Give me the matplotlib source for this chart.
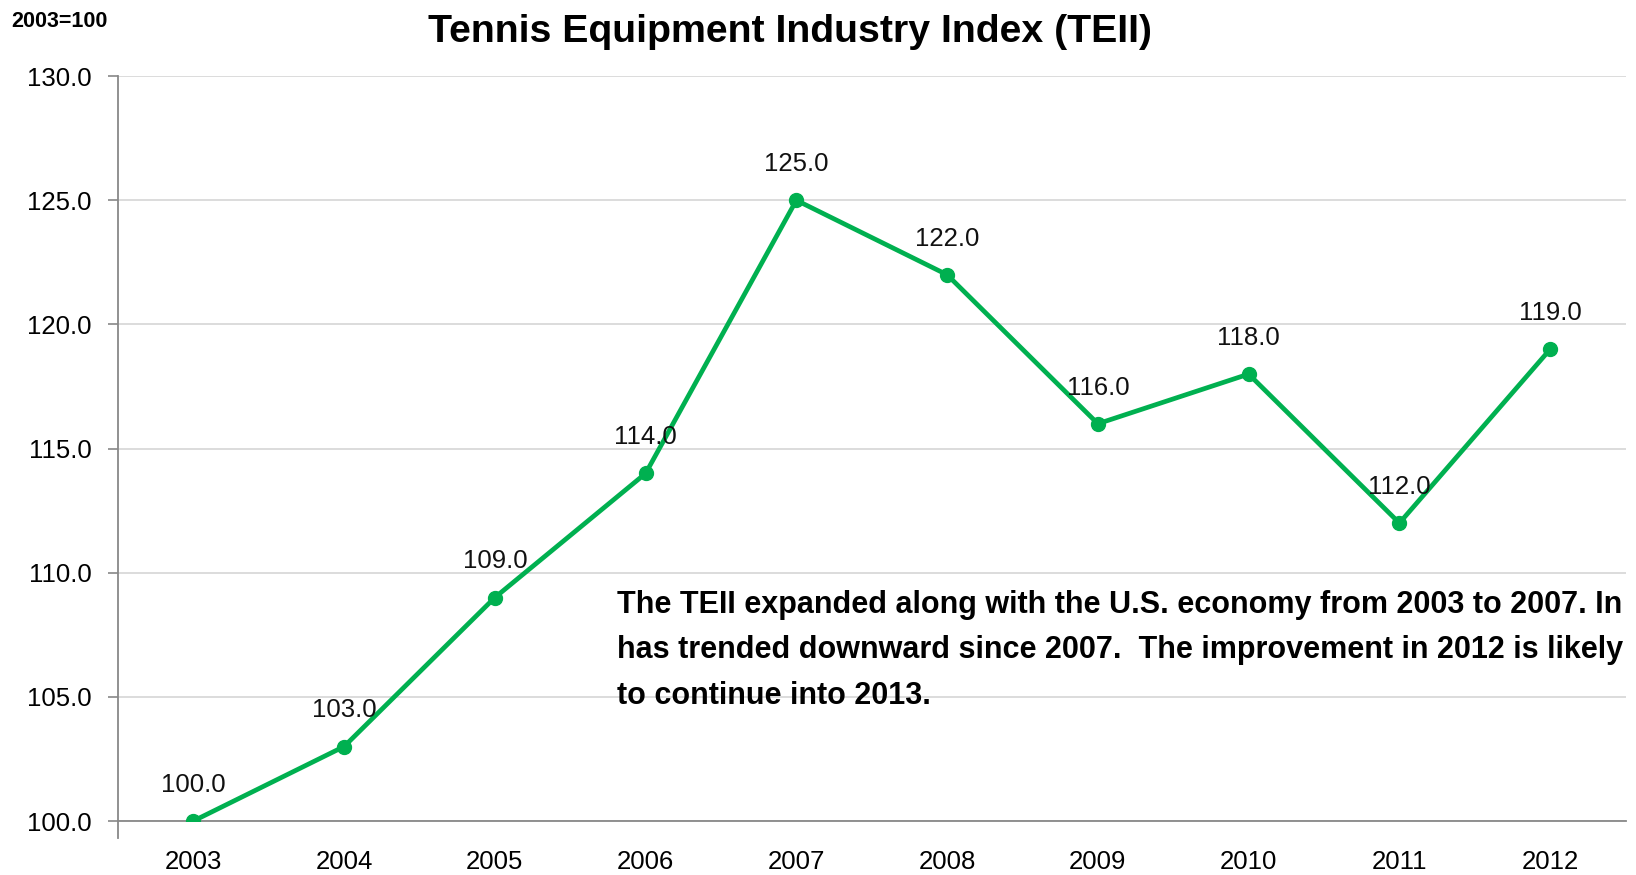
import matplotlib
matplotlib.use("Agg")
import matplotlib.pyplot as plt

plt.rcParams['font.family'] = ['Liberation Sans', 'DejaVu Sans']

years = ['2003', '2004', '2005', '2006', '2007', '2008', '2009', '2010', '2011', '2012']
teii = [100.0, 103.0, 109.0, 114.0, 125.0, 122.0, 116.0, 118.0, 112.0, 119.0]
yticks = [100, 105, 110, 115, 120, 125, 130]

title = "Tennis Equipment Industry Index (TEII)"
base_note = "2003=100"
comment = ("The TEII expanded along with the U.S. economy from 2003 to 2007. In\n"
           "has trended downward since 2007.  The improvement in 2012 is likely\n"
           "to continue into 2013.")

green = '#00B050'

fig = plt.figure(figsize=(16.36, 8.75), dpi=100)
ax = fig.add_axes([0.0721, 0.0617, 0.9215, 0.8513])

x = range(len(years))
ax.plot(x, teii, color=green, linewidth=3.4, marker='o', markersize=10, zorder=3)
for i, v in zip(x, teii):
    ax.annotate(f"{v:.1f}", (i, v), xytext=(0, 26), textcoords='offset points',
                ha='center', va='center', fontsize=18.5, color='#111111')

ax.set_xlim(-0.5, len(years) - 0.5)
ax.set_ylim(100, 130)
ax.set_xticks(list(x))
ax.set_xticklabels(years)
ax.set_yticks(yticks)
ax.set_yticklabels([f"{t:.1f}" for t in yticks])
ax.tick_params(axis='x', length=0, pad=21, labelsize=18.5)
ax.tick_params(axis='y', length=7, width=1.2, color='#888888', pad=12, labelsize=18.5)
ax.grid(axis='y', color='#d9d9d9', linewidth=1.3)
ax.set_axisbelow(True)
for s in ['top', 'right']:
    ax.spines[s].set_visible(False)
ax.spines['left'].set_color('#888888')
ax.spines['left'].set_linewidth(1.3)
ax.spines['left'].set_bounds(99.3, 130)
ax.spines['bottom'].set_color('#888888')
ax.spines['bottom'].set_linewidth(1.3)

fig.text(0.483, 0.963, title, ha='center', va='center', fontsize=28.3, fontweight='bold')
fig.text(0.007, 0.975, base_note, ha='left', va='center', fontsize=15.5, fontweight='bold')
fig.text(0.377, 0.326, comment, ha='left', va='top', fontsize=22, fontweight='bold',
         linespacing=1.68)

fig.savefig("out.png", dpi=100)
